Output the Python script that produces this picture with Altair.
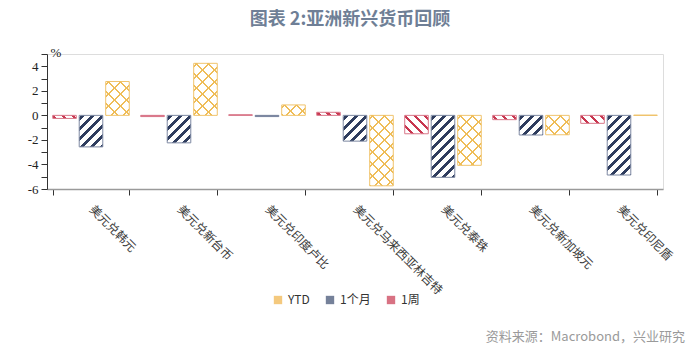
import altair as alt

# ---------------- data ----------------
categories = ["美元兑韩元", "美元兑新台币", "美元兑印度卢比", "美元兑马来西亚林吉特",
              "美元兑泰铢", "美元兑新加坡元", "美元兑印尼盾"]
series = ["1周", "1个月", "YTD"]
week = [-0.25, -0.10, 0.05, 0.25, -1.50, -0.35, -0.65]
month = [-2.57, -2.24, -0.10, -2.10, -5.05, -1.60, -4.86]
ytd = [2.76, 4.24, 0.85, -5.74, -4.07, -1.58, 0.02]
legend_order = ["YTD", "1个月", "1周"]
title_text = "图表 2:亚洲新兴货币回顾"
source_text = "资料来源：Macrobond，兴业研究"

# ---------------- layout / style ----------------
W, H = 616, 135
Y_MIN, Y_MAX = -6, 5
PAD_IN, PAD_OUT = 0.13, 0.065
OFF_PAD = 0.11
px_per_unit = H / (Y_MAX - Y_MIN)
step = W / (len(categories) - PAD_IN + 2 * PAD_OUT)
bandw = step * (1 - PAD_IN)
bar_w = bandw / (len(series) - OFF_PAD) * (1 - OFF_PAD)

stroke_cols = {"1周": "#d9788a", "1个月": "#7d88a2", "YTD": "#f0c46e"}
line_cols = {"1周": "#c8364f", "1个月": "#2f3d5e", "YTD": "#efbd58"}
legend_cols = {"YTD": "#f0b247", "1个月": "#3b4b6e", "1周": "#c8364f"}
style = {  # (direction, period, thickness)
    "1周": ("\\", 10.0, 3.4),
    "1个月": ("/", 10.0, 3.6),
    "YTD": ("/", 12.0, 2.0),
}


def stripes(w, h, direction, period, thick, fg, bg, phase=2.0):
    """Linear gradient (bounding-box units) that draws 45-degree stripes."""
    if h < 1.5:
        return fg
    L = w + h
    c = L / (w * w + h * h)
    if direction == "/":
        x1, y1, x2, y2 = 0, 0, w * c, h * c
    else:
        x1, y1, x2, y2 = 1, 0, 1 - w * c, h * c
    stops = [{"offset": 0, "color": bg}]
    s = phase - period
    while s < L:
        a, b = max(s, 0.0), min(s + thick, L)
        if b > a:
            stops += [{"offset": a / L, "color": bg}, {"offset": a / L, "color": fg},
                      {"offset": b / L, "color": fg}, {"offset": b / L, "color": bg}]
        s += period
    stops.append({"offset": 1, "color": bg})
    return {"gradient": "linear", "x1": x1, "y1": y1, "x2": x2, "y2": y2, "stops": stops}


rows = []
for i, cat in enumerate(categories):
    for s, vals in zip(series, [week, month, ytd]):
        v = vals[i]
        h = abs(v) * px_per_unit
        d, per, th = style[s]
        g1 = stripes(bar_w, h, d, per, th, line_cols[s], "#ffffff")
        if s == "YTD":
            g2 = stripes(bar_w, h, "\\", per, th, line_cols[s], "rgba(255,255,255,0)", phase=8.0)
        else:
            g2 = "rgba(255,255,255,0)"
        rows.append({"cat": cat, "series": s, "value": v, "g1": g1, "g2": g2})

x_enc = alt.X("cat:N", sort=categories,
              scale=alt.Scale(paddingInner=PAD_IN, paddingOuter=PAD_OUT),
              axis=alt.Axis(title=None, labelAngle=45, labelAlign="left", labelBaseline="middle",
                            labelPadding=12, labelFont="Noto Sans CJK SC", labelFontSize=12,
                            labelColor="#3a3a3a", tickBand="extent", tickSize=6, tickColor="#333333",
                            domainColor="#9a9a9a", domainWidth=1.5, labelLimit=300))
xo_enc = alt.XOffset("series:N", sort=series,
                     scale=alt.Scale(paddingInner=OFF_PAD, paddingOuter=0))
y_enc = alt.Y("value:Q", scale=alt.Scale(domain=[Y_MIN, Y_MAX], nice=False),
              axis=alt.Axis(values=list(range(Y_MIN, Y_MAX + 1)),
                            labelExpr="datum.value % 2 == 0 && datum.value < 5 ? toString(datum.value) : ''",
                            labelFont="Liberation Serif", labelFontSize=13, labelColor="#222222",
                            labelPadding=3, tickSize=6, tickColor="#333333", domainColor="#333333",
                            grid=False, title="%", titleAngle=0, titleX=3, titleY=-2,
                            titleAlign="left", titleBaseline="middle", titleFont="Liberation Serif",
                            titleFontSize=13, titleFontWeight="normal", titleColor="#222222"))

data = alt.Data(values=rows)

bars = alt.Chart(data).mark_bar(strokeWidth=1, aria=False).encode(
    x=x_enc, xOffset=xo_enc, y=y_enc,
    fill=alt.Fill("g1:N", scale=None),
    stroke=alt.Stroke("series:N", scale=alt.Scale(domain=series, range=[stroke_cols[s] for s in series]),
                      legend=None),
)

hatch = alt.Chart(data).mark_bar(aria=False).encode(
    x=x_enc, xOffset=xo_enc, y=y_enc,
    fill=alt.Fill("g2:N", scale=None),
).transform_filter("datum.series == 'YTD'")

legend_layer = alt.Chart(alt.Data(values=[{"series": s} for s in legend_order])).mark_square(
    size=70).encode(
    fill=alt.Fill("series:N", scale=alt.Scale(domain=legend_order, range=[legend_cols[s] for s in legend_order]),
                  legend=alt.Legend(title=None, orient="none", direction="horizontal",
                                    legendX=225, legendY=240, symbolType="square", symbolSize=70,
                                    symbolStrokeWidth=0, labelFont="Noto Sans CJK SC", labelFontSize=12,
                                    labelColor="#333333", columnPadding=14, labelOffset=4)),
).transform_filter("false")

source = alt.Chart(alt.Data(values=[{"t": source_text}])).mark_text(
    align="right", baseline="middle", fontSize=13, color="#9a9a9a", font="Noto Sans CJK SC"
).encode(text="t:N", x=alt.value(638), y=alt.value(283))

chart = alt.layer(bars, hatch, legend_layer, source).properties(
    width=W, height=H,
    title=alt.Title(title_text, fontSize=18, fontWeight="bold", color="#6f7f96",
                    font="Noto Sans CJK SC", anchor="middle", offset=17, dx=-5),
    padding={"left": 47, "top": 54, "right": 37, "bottom": 166},
    autosize=alt.AutoSizeParams(type="none"),
).configure_view(stroke=None).configure(background="white")

chart.save("out.html", embed_options={"renderer": "svg", "actions": False})
